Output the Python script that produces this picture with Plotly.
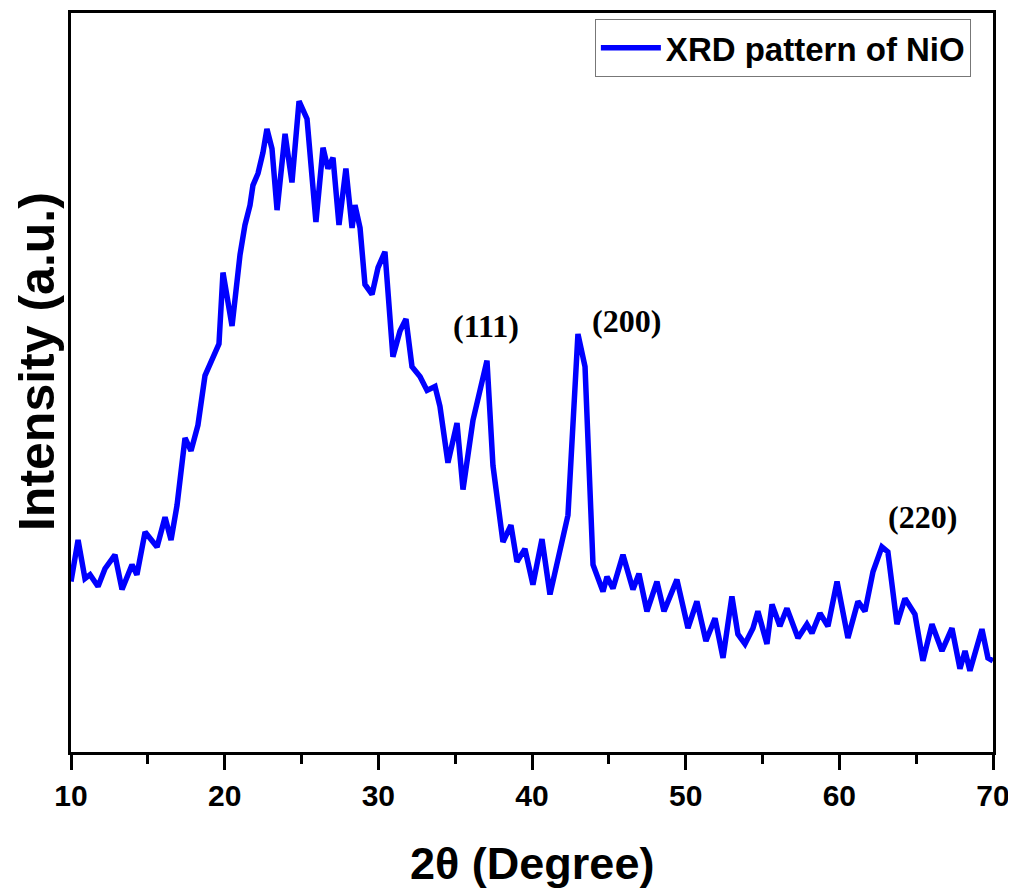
import plotly.graph_objects as go

two_theta = [10.00, 10.46, 10.91, 11.24, 11.76, 12.21, 12.86, 13.32, 13.97, 14.29,
             14.82, 15.60, 16.12, 16.51, 16.90, 17.09, 17.42, 17.81, 18.26, 18.72,
             19.18, 19.63, 19.89, 20.48, 21.00, 21.32, 21.65, 21.84, 22.17, 22.49,
             22.75, 23.08, 23.41, 23.93, 24.38, 24.84, 25.36, 25.94, 26.40, 26.72,
             27.05, 27.44, 27.89, 28.29, 28.48, 28.81, 29.13, 29.59, 29.98, 30.43,
             30.95, 31.41, 31.80, 32.19, 32.71, 33.17, 33.69, 34.01, 34.53, 35.12,
             35.51, 36.16, 37.07, 37.46, 38.11, 38.63, 39.02, 39.54, 40.06, 40.65,
             41.17, 41.82, 42.34, 42.99, 43.45, 43.97, 44.62, 44.88, 45.27, 45.92,
             46.25, 46.57, 46.96, 47.48, 48.13, 48.59, 49.43, 50.15, 50.73, 51.32,
             51.91, 52.43, 53.01, 53.40, 53.86, 54.38, 54.70, 55.29, 55.62, 56.13,
             56.59, 57.31, 57.89, 58.22, 58.74, 59.26, 59.85, 60.56, 61.21, 61.67,
             62.19, 62.77, 63.16, 63.75, 64.27, 64.92, 65.44, 66.03, 66.68, 67.33,
             67.85, 68.18, 68.50, 69.28, 69.67, 70.00]
intensity = [168, 210, 171, 175, 163, 181, 195, 160, 185, 175,
             218, 203, 233, 210, 245, 275, 313, 300, 326, 376,
             392, 408, 480, 426, 498, 528, 548, 568, 580, 601,
             625, 605, 543, 620, 571, 653, 635, 531, 606, 585,
             596, 528, 585, 525, 548, 525, 468, 458, 485, 501,
             395, 421, 433, 385, 375, 361, 365, 345, 288, 328,
             261, 331, 391, 285, 208, 225, 188, 201, 165, 211,
             155, 201, 235, 418, 385, 185, 158, 173, 161, 195,
             178, 160, 176, 138, 168, 138, 170, 121, 148, 108,
             131, 91, 153, 115, 105, 121, 138, 105, 145, 123,
             141, 111, 125, 116, 136, 123, 168, 111, 148, 138,
             178, 203, 198, 125, 151, 135, 88, 125, 98, 121,
             80, 98, 78, 120, 91, 88]

peak_labels = ["(111)", "(200)", "(220)"]
peak_label_x = [37.0, 46.18, 65.44]
peak_label_y = [426, 431, 233]

x_ticks = [10, 20, 30, 40, 50, 60, 70]

fig = go.Figure()
fig.add_trace(go.Scatter(
    x=two_theta, y=intensity, mode="lines",
    name="<b>XRD pattern of NiO</b>",
    line=dict(color="#0000FF", width=5.5),
))

for lab, px, py in zip(peak_labels, peak_label_x, peak_label_y):
    fig.add_annotation(x=px, y=py, text=f"<b>{lab}</b>", showarrow=False,
                       font=dict(family="Liberation Serif", size=32, color="black"),
                       xanchor="center", yanchor="middle")

# axis titles
fig.add_annotation(x=0.5, y=-0.151, xref="paper", yref="paper",
                   text="<b>2θ (Degree)</b>", showarrow=False,
                   font=dict(family="Liberation Sans", size=45, color="black"),
                   xanchor="center", yanchor="middle")
fig.add_annotation(x=-0.0369, y=0.529, xref="paper", yref="paper",
                   text="<b>Intensity (a.u.)</b>", showarrow=False, textangle=-90,
                   font=dict(family="Liberation Sans", size=50, color="black"),
                   xanchor="center", yanchor="middle", borderpad=0)

fig.update_layout(
    width=1008, height=880,
    margin=dict(l=63, r=23, t=2, b=136),
    plot_bgcolor="white", paper_bgcolor="white",
    showlegend=True,
    legend=dict(x=0.976, y=0.992, xanchor="right", yanchor="top",
                bgcolor="white", bordercolor="#777777", borderwidth=1,
                font=dict(family="Liberation Sans", size=33, color="black"),
                itemwidth=60, tracegroupgap=0),
    xaxis=dict(range=[10, 70], tickvals=x_ticks,
               ticktext=[f"<b>{t}</b>" for t in x_ticks],
               ticks="outside", ticklen=15, tickwidth=3, tickcolor="black",
               minor=dict(dtick=5, tick0=10, ticks="outside", ticklen=9,
                          tickwidth=3, tickcolor="black"),
               showline=True, linewidth=3, linecolor="black", mirror=True,
               showgrid=False, zeroline=False,
               tickfont=dict(family="Liberation Sans", size=30, color="black")),
    yaxis=dict(range=[-4, 742], showticklabels=False, ticks="",
               showline=True, linewidth=3, linecolor="black", mirror=True,
               showgrid=False, zeroline=False),
)

fig.write_html("out.html")
